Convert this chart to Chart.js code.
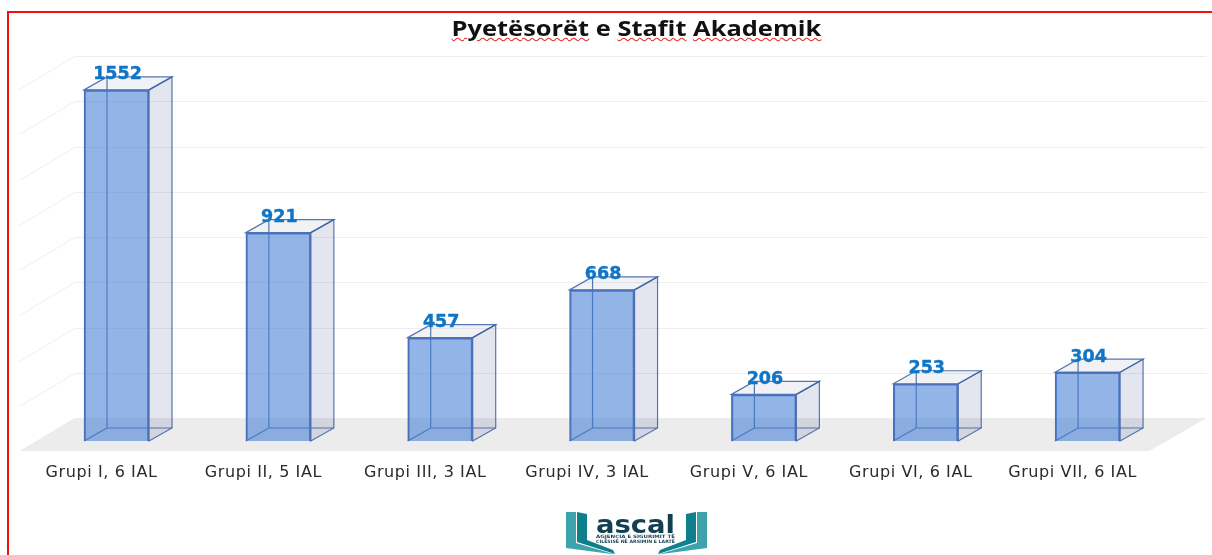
<!DOCTYPE html>
<html>
<head>
<meta charset="utf-8">
<style>
  html, body { margin: 0; padding: 0; background: #fff; overflow: hidden; }
  #wrap { position: relative; width: 1212px; height: 555px; }
  #frame { position: absolute; left: 7px; top: 11px; right: 0; bottom: 0; border-top: 2px solid #f01010; border-left: 2px solid #f01010; }
  #title { position: absolute; left: 0; top: 13px; width: 1273px; text-align: center; font: bold 21.5px "Open Sans"; color: #111; transform: scaleX(1.183); transform-origin: 636.5px 0; }
  #title span { text-decoration: underline wavy #e03030 1px; text-underline-offset: 1px; }
  #logo { position: absolute; left: 560px; top: 505px; }
</style>
</head>
<body>
<div id="wrap">
  <canvas id="bar-chart"></canvas>
  <div id="frame"></div>
  <div id="title"><span>Pyetësorët</span> e <span>Stafit</span> <span>Akademik</span></div>
  <svg id="logo" width="155" height="50" viewBox="0 0 155 50">
    <polygon points="6,7 16,7 16,38 55,49.5 6,43" fill="#3fa3ad"/>
    <polygon points="17,7 27,9 27,35 53,45 55,49 17,37" fill="#0e7f8c"/>
    <polygon points="147,7 137,7 137,38 98,49.5 147,43" fill="#3fa3ad"/>
    <polygon points="136,7 126,9 126,35 100,45 98,49 136,37" fill="#0e7f8c"/>
    <text x="36" y="28" textLength="79" lengthAdjust="spacingAndGlyphs" font-family="DejaVu Sans" font-weight="bold" font-size="24" fill="#123f52">ascal</text>
    <text x="36" y="33" textLength="79" lengthAdjust="spacingAndGlyphs" font-family="DejaVu Sans" font-weight="bold" font-size="4.5" fill="#123f52">AGJENCIA E SIGURIMIT TË</text>
    <text x="36" y="37.5" textLength="79" lengthAdjust="spacingAndGlyphs" font-family="DejaVu Sans" font-weight="bold" font-size="4.5" fill="#123f52">CILËSISË NË ARSIMIN E LARTË</text>
  </svg>
</div>
<script src="https://cdn.jsdelivr.net/npm/chart.js"></script>
<script>
const categories = ["Grupi I, 6 IAL", "Grupi II, 5 IAL", "Grupi III, 3 IAL", "Grupi IV, 3 IAL", "Grupi V, 6 IAL", "Grupi VI, 6 IAL", "Grupi VII, 6 IAL"];
const respondents = [1552, 921, 457, 668, 206, 253, 304];
const yMax = 1600;
const yStep = 200;

let canvas = document.getElementById("bar-chart");
canvas.width = 1212;
canvas.height = 555;

// fake 3D: depth of the bar boxes and of the floor / back wall
const barDx = 23, barDy = 13;
const wallDx = 55, wallDy = 33, wallLift = 23;

const box3d = {
  id: 'box3d',
  beforeDraw(chart) {
    chart.ctx.letterSpacing = '0.6px'; // tick labels are wider in the picture
  },
  beforeDatasetsDraw(chart) {
    const c = chart.ctx, y = chart.scales.y, x = chart.scales.x;
    const zero = y.getPixelForValue(0);
    const backY = zero - wallLift;
    const frontY = backY + wallDy;
    const left = x.left - 16, right = x.right - 19;

    c.save();
    // floor
    c.fillStyle = '#ececec';
    c.beginPath();
    c.moveTo(left, frontY);
    c.lineTo(left + wallDx, backY);
    c.lineTo(right + wallDx + 2, backY);
    c.lineTo(right, frontY);
    c.closePath();
    c.fill();

    // grid on wall and left side
    c.strokeStyle = '#eeeeee';
    c.lineWidth = 1;
    y.ticks.forEach(t => {
      if (t.value === 0) return;
      const g = Math.round(y.getPixelForValue(t.value) - wallLift) + 0.5;
      c.beginPath();
      c.moveTo(left, g + wallDy);
      c.lineTo(left + wallDx, g);
      c.lineTo(right + wallDx + 2, g);
      c.stroke();
    });

    // back faces of the boxes
    c.lineWidth = 1.2;
    c.strokeStyle = 'rgba(60,95,165,0.85)';
    chart.getDatasetMeta(0).data.forEach(b => {
      const l = b.x - b.width / 2, r = b.x + b.width / 2, t = b.y, f = b.base;
      // right side
      c.fillStyle = 'rgba(68,84,140,0.15)';
      c.beginPath();
      c.moveTo(r, t); c.lineTo(r + barDx, t - barDy); c.lineTo(r + barDx, f - barDy); c.lineTo(r, f);
      c.closePath(); c.fill(); c.stroke();
      // top
      c.fillStyle = 'rgba(68,84,140,0.08)';
      c.beginPath();
      c.moveTo(l, t); c.lineTo(l + barDx, t - barDy); c.lineTo(r + barDx, t - barDy); c.lineTo(r, t);
      c.closePath(); c.fill(); c.stroke();
      // hidden edges
      c.beginPath();
      c.moveTo(l + barDx, t - barDy); c.lineTo(l + barDx, f - barDy); c.lineTo(r + barDx, f - barDy);
      c.moveTo(l, f); c.lineTo(l + barDx, f - barDy);
      c.stroke();
    });
    c.restore();
  },
  afterDatasetsDraw(chart) {
    const c = chart.ctx;
    c.save();
    c.letterSpacing = '0px';
    c.font = 'bold 17.5px "DejaVu Sans"';
    c.fillStyle = '#0f75c4';
    c.strokeStyle = '#0f75c4';
    c.lineWidth = 0.4;
    c.textAlign = 'center';
    c.textBaseline = 'middle';
    chart.getDatasetMeta(0).data.forEach((b, i) => {
      c.fillText(respondents[i], b.x + 1, b.y - 15);
      c.strokeText(respondents[i], b.x + 1, b.y - 15);
    });
    c.restore();
  }
};

new Chart(canvas, {
  type: 'bar',
  data: {
    labels: categories,
    datasets: [{
      label: "Pyetësorët e Stafit Akademik",
      data: respondents,
      backgroundColor: 'rgba(68,125,212,0.58)',
      borderColor: '#4a70b8',
      borderWidth: 1.5,
      barThickness: 65
    }]
  },
  plugins: [box3d],
  options: {
    responsive: false,
    animation: false,
    layout: { padding: { left: 35.6, right: 43.5, top: 79, bottom: 54 } },
    plugins: { legend: { display: false }, title: { display: false }, tooltip: { enabled: false } },
    scales: {
      x: {
        grid: { display: false },
        border: { display: false },
        ticks: { color: '#2b2b2b', font: { family: 'DejaVu Sans', size: 16 }, padding: 14, maxRotation: 0, labelOffset: -15 },
        afterFit(s) { s.height = 60; }
      },
      y: {
        min: 0,
        max: yMax,
        display: true,
        grid: { display: false },
        border: { display: false },
        ticks: { stepSize: yStep, display: false },
        afterFit(s) { s.width = 0; }
      }
    }
  }
});
</script>
</body>
</html>
